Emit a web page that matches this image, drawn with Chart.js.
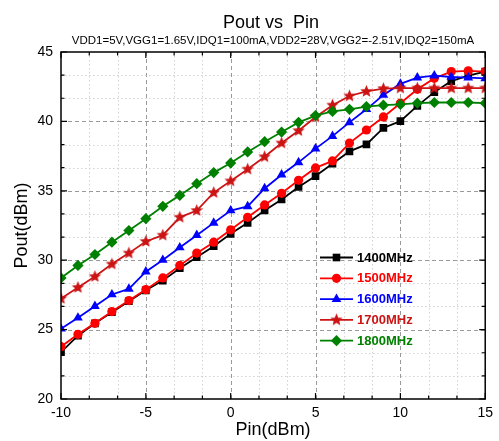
<!DOCTYPE html>
<html>
<head>
<meta charset="utf-8">
<script src="https://cdn.jsdelivr.net/npm/chart.js@4.4.1/dist/chart.umd.min.js"></script>
<style>
  html, body { margin: 0; padding: 0; background: #fff; }
</style>
</head>
<body>
<canvas id="canvas-1" width="499" height="441"></canvas>
<script>
'use strict';

var pin = [-10, -9, -8, -7, -6, -5, -4, -3, -2, -1, 0, 1, 2, 3, 4, 5, 6, 7, 8, 9, 10, 11, 12, 13, 14, 15];
var pout1400 = [23.37, 24.56, 25.45, 26.25, 27.04, 27.83, 28.53, 29.42, 30.21, 31.01, 31.9, 32.69, 33.58, 34.37, 35.27, 36.06, 36.95, 37.84, 38.34, 39.53, 40.02, 41.12, 42.11, 42.9, 43.3, 43.59];
var pout1500 = [23.77, 24.66, 25.45, 26.3, 27.09, 27.88, 28.72, 29.62, 30.51, 31.3, 32.19, 33.09, 33.98, 34.82, 35.76, 36.65, 37.15, 38.44, 39.38, 40.32, 41.31, 42.31, 43.1, 43.59, 43.64, 43.59];
var pout1600 = [25.06, 25.85, 26.69, 27.53, 27.93, 29.17, 30.01, 30.91, 31.8, 32.69, 33.58, 33.88, 35.17, 36.16, 37.05, 38.04, 38.94, 39.93, 40.87, 41.91, 42.7, 43.15, 43.3, 43.2, 43.15, 43.1];
var pout1700 = [27.24, 28.03, 28.82, 29.72, 30.51, 31.35, 31.8, 33.09, 33.58, 34.87, 35.71, 36.56, 37.45, 38.44, 39.33, 40.32, 41.17, 41.83, 42.16, 42.36, 42.4, 42.4, 42.4, 42.4, 42.4, 42.4];
var pout1800 = [28.72, 29.62, 30.41, 31.3, 32.14, 32.99, 33.88, 34.67, 35.51, 36.31, 37.0, 37.8, 38.54, 39.23, 39.93, 40.42, 40.72, 40.87, 41.07, 41.17, 41.22, 41.31, 41.36, 41.36, 41.36, 41.31];
var seriesNames = ['1400MHz', '1500MHz', '1600MHz', '1700MHz', '1800MHz'];
var xRange = [-10, 15];
var yRange = [20, 45];

var FONT = '"Liberation Sans", Arial, sans-serif';

function makeStar(color, r) {
  var s = Math.ceil(r * 2 + 2);
  var c = document.createElement('canvas');
  c.width = s;
  c.height = s;
  var g = c.getContext('2d');
  g.fillStyle = color;
  g.beginPath();
  for (var i = 0; i < 10; i++) {
    var rr = i % 2 ? r * 0.45 : r;
    var a = -Math.PI / 2 + i * Math.PI / 5;
    g.lineTo(s / 2 + rr * Math.cos(a), s / 2 + rr * Math.sin(a));
  }
  g.closePath();
  g.fill();
  return c;
}

var styles = [
  { color: '#000000', point: 'rect', radius: 5.4 },
  { color: '#ff0000', point: 'circle', radius: 4.6 },
  { color: '#0000ff', point: 'triangle', radius: 5.6 },
  { color: '#cc1414', point: makeStar('#cc1414', 6.5), radius: 6 },
  { color: '#008000', point: 'rectRot', radius: 5.6 }
];

function toXY(values) {
  return pin.map(function(p, i) { return { x: p, y: values[i] }; });
}

var allValues = [pout1400, pout1500, pout1600, pout1700, pout1800];
var datasets = allValues.map(function(vals, i) {
  return {
    label: seriesNames[i],
    data: toXY(vals),
    borderColor: styles[i].color,
    backgroundColor: styles[i].color,
    pointBackgroundColor: styles[i].color,
    pointBorderColor: styles[i].color,
    pointBorderWidth: 0,
    pointStyle: styles[i].point,
    pointRadius: styles[i].radius,
    borderWidth: 1.8,
    tension: 0,
    clip: 0,
    order: 5 - i
  };
});

function drawMarker(ctx, st, x, y) {
  var r = st.radius;
  ctx.save();
  ctx.fillStyle = st.color;
  ctx.beginPath();
  if (typeof st.point !== 'string') {
    ctx.drawImage(st.point, x - st.point.width / 2, y - st.point.height / 2);
  } else if (st.point === 'rect') {
    var h = r * Math.SQRT1_2;
    ctx.rect(x - h, y - h, 2 * h, 2 * h);
  } else if (st.point === 'circle') {
    ctx.arc(x, y, r, 0, Math.PI * 2);
  } else if (st.point === 'triangle') {
    ctx.moveTo(x, y - r);
    ctx.lineTo(x + r * 0.866, y + r * 0.5);
    ctx.lineTo(x - r * 0.866, y + r * 0.5);
  } else if (st.point === 'rectRot') {
    ctx.moveTo(x, y - r);
    ctx.lineTo(x + r, y);
    ctx.lineTo(x, y + r);
    ctx.lineTo(x - r, y);
  }
  ctx.closePath();
  ctx.fill();
  ctx.restore();
}

// grid, frame, inward ticks, titles and legend
var framePlugin = {
  id: 'frame',
  beforeDatasetsDraw: function(chart) {
    var ctx = chart.ctx, a = chart.chartArea;
    var xs = chart.scales.x, ys = chart.scales.y;
    var step = 5 / 3;
    ctx.save();
    ctx.lineWidth = 1;
    for (var i = 1; i < 15; i++) {
      var major = i % 3 === 0;
      ctx.strokeStyle = major ? '#9a9a9a' : '#d2d2d2';
      ctx.setLineDash(major ? [4, 3] : [1.5, 2.5]);
      var px = Math.round(xs.getPixelForValue(xRange[0] + i * step)) + 0.5;
      ctx.beginPath();
      ctx.moveTo(px, a.top);
      ctx.lineTo(px, a.bottom);
      ctx.stroke();
      var py = Math.round(ys.getPixelForValue(yRange[0] + i * step)) + 0.5;
      ctx.beginPath();
      ctx.moveTo(a.left, py);
      ctx.lineTo(a.right, py);
      ctx.stroke();
    }
    ctx.restore();
  },
  afterDraw: function(chart) {
    var ctx = chart.ctx, a = chart.chartArea;
    var xs = chart.scales.x, ys = chart.scales.y;
    var step = 5 / 3;
    ctx.save();
    ctx.strokeStyle = '#000';
    ctx.lineWidth = 1.5;
    ctx.setLineDash([]);
    ctx.strokeRect(a.left, a.top, a.right - a.left, a.bottom - a.top);
    ctx.lineWidth = 1.2;
    for (var i = 0; i <= 15; i++) {
      var len = i % 3 === 0 ? 6 : 3.5;
      var px = xs.getPixelForValue(xRange[0] + i * step);
      var py = ys.getPixelForValue(yRange[0] + i * step);
      ctx.beginPath();
      ctx.moveTo(px, a.bottom); ctx.lineTo(px, a.bottom - len);
      ctx.moveTo(px, a.top); ctx.lineTo(px, a.top + len);
      ctx.moveTo(a.left, py); ctx.lineTo(a.left + len, py);
      ctx.moveTo(a.right, py); ctx.lineTo(a.right - len, py);
      ctx.stroke();
    }

    // titles
    ctx.fillStyle = '#000';
    ctx.textAlign = 'center';
    ctx.textBaseline = 'alphabetic';
    ctx.font = '18px ' + FONT;
    ctx.fillText('Pout vs  Pin', 271, 28);
    ctx.font = '11.5px ' + FONT;
    ctx.fillText('VDD1=5V,VGG1=1.65V,IDQ1=100mA,VDD2=28V,VGG2=-2.51V,IDQ2=150mA', 273, 44);

    // legend
    ctx.textAlign = 'left';
    ctx.textBaseline = 'middle';
    ctx.font = 'bold 13px ' + FONT;
    for (var k = 0; k < seriesNames.length; k++) {
      var ly = 257.5 + k * 20.8;
      var st = styles[k];
      ctx.strokeStyle = st.color;
      ctx.lineWidth = 1.8;
      ctx.beginPath();
      ctx.moveTo(320, ly);
      ctx.lineTo(353, ly);
      ctx.stroke();
      drawMarker(ctx, st, 336.5, ly);
      ctx.fillStyle = st.color;
      ctx.fillText(seriesNames[k], 357, ly + 0.5);
    }
    ctx.restore();
  }
};

var ctx = document.getElementById('canvas-1');
var chart = new Chart(ctx, {
  type: 'line',
  data: { datasets: datasets },
  plugins: [framePlugin],
  options: {
    responsive: false,
    animation: false,
    devicePixelRatio: 1,
    layout: { padding: { left: 8, right: 10, top: 52, bottom: 0 } },
    plugins: {
      legend: { display: false },
      tooltip: { enabled: false },
      title: { display: false }
    },
    scales: {
      x: {
        type: 'linear',
        min: xRange[0],
        max: xRange[1],
        afterFit: function(s) { s.height = 42; },
        ticks: { stepSize: 5, color: '#000', font: { size: 14, family: FONT }, padding: 6, maxRotation: 0 },
        grid: { display: false, drawTicks: false },
        border: { display: false },
        title: { display: true, text: 'Pin(dBm)', color: '#000', font: { size: 18, family: FONT }, padding: { top: 0, bottom: 0 } }
      },
      y: {
        type: 'linear',
        min: yRange[0],
        max: yRange[1],
        afterFit: function(s) { s.width = 53; },
        ticks: { stepSize: 5, color: '#000', font: { size: 14, family: FONT }, padding: 8 },
        grid: { display: false, drawTicks: false },
        border: { display: false },
        title: { display: true, text: 'Pout(dBm)', color: '#000', font: { size: 18, family: FONT }, padding: { top: 3, bottom: 0 } }
      }
    }
  }
});
</script>
</body>
</html>
